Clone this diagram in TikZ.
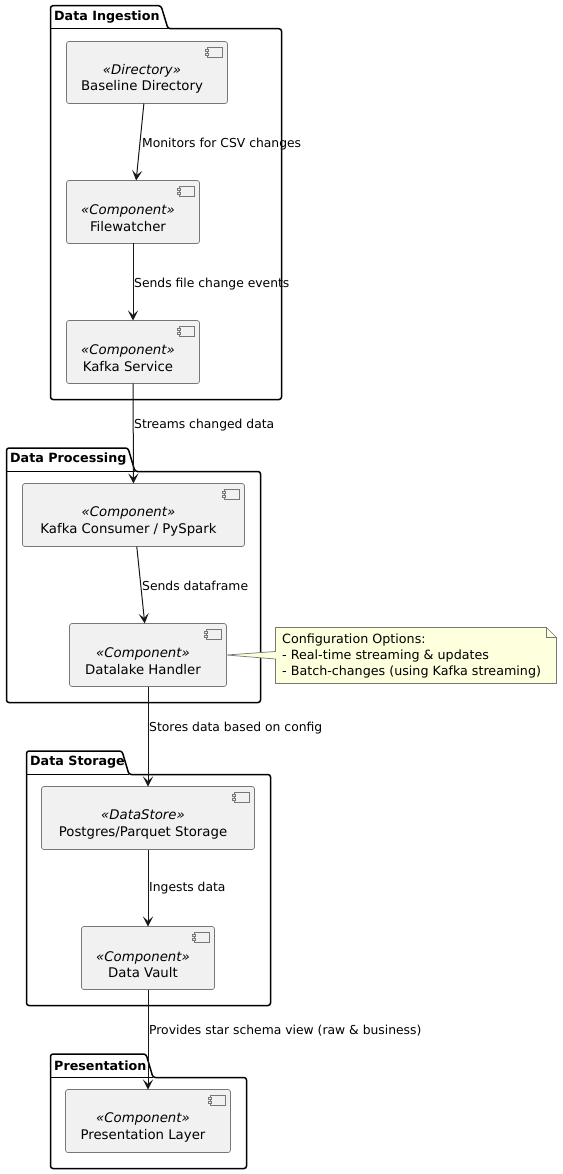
\documentclass[tikz,border=0pt]{standalone}
\usepackage{fontspec}
\setmainfont{DejaVu Sans}
\usetikzlibrary{arrows.meta,calc}
\definecolor{ink}{HTML}{181818}
\definecolor{soft}{HTML}{777777}
\definecolor{boxfill}{HTML}{F1F1F1}
\definecolor{notefill}{HTML}{FEFFDD}
\tikzset{
  compbox/.style={draw=soft,fill=boxfill,line width=.7pt,rounded corners=2.5pt,inner sep=0pt,outer sep=0pt},
  comptext/.style={align=center,inner sep=0pt,font=\fontsize{13.3}{16.3}\selectfont},
  pkgline/.style={draw=black,line width=1.5pt,rounded corners=2.5pt,line join=round},
  pkgtitle/.style={anchor=west,inner sep=0pt,font=\fontsize{12.7}{15}\selectfont\bfseries},
  edgetext/.style={anchor=west,inner sep=0pt,font=\fontsize{12.35}{15}\selectfont},
  flow/.style={draw=ink,line width=1pt,-{Stealth[length=10pt,width=10pt,inset=4.5pt]}},
  iconline/.style={draw=soft,line width=.7pt,fill=boxfill}
}
\newcommand{\pkgshape}[6]{% x1,x2,ytop,ybody,ybot,tabright
  \draw[pkgline] (#1,#4) -- (#1,#3) -- (#6,#3) -- (#6+7,#4) -- (#2,#4) -- (#2,#5) -- (#1,#5) -- cycle;
  \draw[draw=black,line width=1.5pt] (#1,#4) -- (#6+7,#4);
}
\newcommand{\compicon}[1]{%
  \draw[iconline] ($(#1.north east)+(-20.3,5.7)$) rectangle ($(#1.north east)+(-5,15.4)$);
  \draw[iconline] ($(#1.north east)+(-22,7.7)$) rectangle ($(#1.north east)+(-18.7,9.7)$);
  \draw[iconline] ($(#1.north east)+(-22,11.4)$) rectangle ($(#1.north east)+(-18.7,13.4)$);
}
\newcommand{\compbox}[7]{% name,x1,x2,y1,y2,stereotype,title
  \node[compbox,minimum width=#3pt-#2pt,minimum height=#5pt-#4pt] (#1) at ({(#2+#3)/2},{(#4+#5)/2}) {};
  \compicon{#1}
  \node[comptext] (#1text) at ($(#1)+(-5,6.3)$) {\textit{«#6»}\\#7};
}
\begin{document}
\begin{tikzpicture}[x=1pt,y=-1pt]
\useasboundingbox (0,0) rectangle (562,1174);
\fill[white] (0,0) rectangle (562,1174);

\pkgshape{50.5}{281.5}{5.7}{28.7}{399.5}{161}
\pkgshape{6.5}{260.5}{448}{471.5}{702.5}{128}
\pkgshape{26.5}{270.5}{751}{774.5}{1005.5}{122}
\pkgshape{50.5}{246.5}{1054}{1077.5}{1168.5}{146}
\node[pkgtitle] (pi) at (54,17.5) {Data Ingestion};
\node[pkgtitle] (pp) at (10,459.5) {Data Processing};
\node[pkgtitle] (ps) at (30,762.5) {Data Storage};
\node[pkgtitle] (pr) at (54,1065.5) {Presentation};

\compbox{dir}{66.5}{227.5}{41.5}{103.5}{Directory}{Baseline Directory}
\compbox{fw}{66.5}{199.5}{180.5}{243.5}{Component}{Filewatcher}
\compbox{ks}{66.5}{199.5}{320.5}{383.5}{Component}{Kafka Service}
\compbox{kc}{22.5}{244.5}{483.5}{546.5}{Component}{Kafka Consumer / PySpark}
\compbox{dl}{69.5}{226.5}{623.5}{686.5}{Component}{Datalake Handler}
\compbox{pg}{41.5}{254.5}{786.5}{849.5}{DataStore}{Postgres/Parquet Storage}
\compbox{dv}{81.5}{214.5}{926.5}{989.5}{Component}{Data Vault}
\compbox{pl}{65.5}{230.5}{1089.5}{1152.5}{Component}{Presentation Layer}

\draw[flow] (dir) -- (fw);
\draw[flow] (fw) -- (ks);
\draw[flow] (ks) -- (kc);
\draw[flow] (kc) -- (dl);
\draw[flow] (dl) -- (pg);
\draw[flow] (pg) -- (dv);
\draw[flow] (dv) -- (pl);

\node[edgetext] (e1) at (142,144) {Monitors for CSV changes};
\node[edgetext] (e2) at (134,284) {Sends file change events};
\node[edgetext] (e3) at (134,425) {Streams changed data};
\node[edgetext] (e4) at (142,586) {Sends dataframe};
\node[edgetext] (e5) at (149,728) {Stores data based on config};
\node[edgetext] (e6) at (149,888) {Ingests data};
\node[edgetext] (e7) at (149,1031) {Provides star schema view (raw \& business)};

\node[minimum width=281pt,minimum height=56pt,inner sep=0pt,outer sep=0pt] (note) at (416,655.5) {};
\draw[draw=soft,line width=.7pt,fill=notefill,line join=round]
  (note.north west) -- ($(note.north east)+(-10,0)$) -- ($(note.north east)+(0,10)$) -- (note.south east) -- (note.south west)
  -- ($(note.west)+(0,3.5)$) -- (dl.east) -- ($(note.west)+(0,-4)$) -- cycle;
\draw[draw=soft,line width=.7pt] ($(note.north east)+(-10,0)$) -- ($(note.north east)+(-10,10)$) -- ($(note.north east)+(0,10)$);
\node[anchor=west,align=left,inner sep=0pt,font=\fontsize{12.7}{15.6}\selectfont] (notetext) at (282,656) {Configuration Options:\\- Real-time streaming \& updates\\- Batch-changes (using Kafka streaming)};
\end{tikzpicture}
\end{document}
